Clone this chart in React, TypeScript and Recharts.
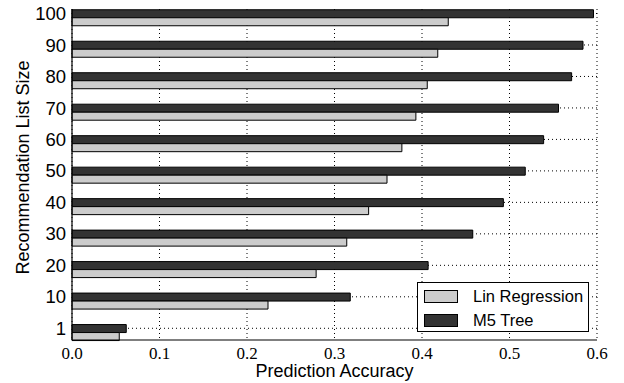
import React from 'react'
import { BarChart, Bar, XAxis, YAxis, CartesianGrid, Legend } from 'recharts'

// list sizes bottom -> top
const listSizes = ['1', '10', '20', '30', '40', '50', '60', '70', '80', '90', '100']
const linRegression = [0.054, 0.224, 0.279, 0.314, 0.339, 0.36, 0.377, 0.393, 0.406, 0.418, 0.43]
const m5Tree = [0.062, 0.318, 0.407, 0.458, 0.493, 0.518, 0.539, 0.556, 0.571, 0.584, 0.596]
const accuracyTicks = [0, 0.1, 0.2, 0.3, 0.4, 0.5, 0.6]

const LIGHT = '#cccccc'
const DARK = '#333333'
const SANS = '"Liberation Sans", Arial, sans-serif'
const SERIF = 'Liberation Serif, serif'

const legendItems = [
    { name: 'Lin Regression', color: LIGHT },
    { name: 'M5 Tree', color: DARK },
]

const data = listSizes.map((size, i) => ({ pos: i, size, lin: linRegression[i], m5: m5Tree[i] }))
const posTicks = listSizes.map((_, i) => i)

const LegendBox = () => (
    <div style={{
        width: 172, height: 50, boxSizing: 'border-box', border: '1px solid #000',
        background: '#fff', padding: '1px 0 0 6px', fontFamily: SANS, fontSize: 16.5, color: '#000'
    }}>
        {legendItems.map(item => (
            <div key={item.name} style={{ display: 'flex', alignItems: 'center', height: 24 }}>
                <span style={{
                    display: 'inline-block', width: 34, height: 13, boxSizing: 'border-box',
                    background: item.color, border: '1px solid #000', marginRight: 15
                }} />
                <span>{item.name}</span>
            </div>
        ))}
    </div>
)

// serif tick labels on the accuracy axis
const AccuracyTick = ({ x, y, payload }: any) => (
    <text x={x} y={y + 4} dy="0.75em" textAnchor="middle" style={{ fontFamily: SERIF }} fontSize={17} fill="#000">
        {Number(payload.value).toFixed(1)}
    </text>
)

export default function App() {
    return (
        <div style={{ position: 'absolute', left: 0, top: 0, width: 624, height: 383, background: '#fff' }}>
            <BarChart
                width={624}
                height={383}
                data={data}
                layout="vertical"
                margin={{ top: 9, right: 27, bottom: 0, left: 0 }}
                barSize={8}
                barGap={0}
            >
                <XAxis
                    type="number"
                    domain={[0, 0.6]}
                    ticks={accuracyTicks}
                    height={43}
                    tickSize={0}
                    axisLine={{ stroke: '#000', strokeWidth: 1.2 }}
                    tick={<AccuracyTick />}
                    label={{
                        content: ({ viewBox }: any) => (
                            <text x={viewBox.x + viewBox.width / 2} y={viewBox.y + 31} textAnchor="middle"
                                dominantBaseline="central" fontFamily={SANS} fontSize={18} fill="#000">
                                Prediction Accuracy
                            </text>
                        )
                    }}
                />
                <XAxis xAxisId="top" orientation="top" type="number" domain={[0, 0.6]} height={0}
                    tick={false} tickLine={false} axisLine={{ stroke: '#000', strokeWidth: 1.2 }} />
                <YAxis
                    type="number"
                    dataKey="pos"
                    domain={[-0.372, 10.143]}
                    reversed
                    ticks={posTicks}
                    interval={0}
                    tickFormatter={(v: number) => listSizes[v]}
                    width={72}
                    tickSize={0}
                    tickMargin={6}
                    axisLine={{ stroke: '#000', strokeWidth: 1.2 }}
                    tick={{ fill: '#000', fontSize: 18.5, fontFamily: SANS }}
                    label={{
                        content: () => (
                            <text x={23} y={167.5} transform="rotate(-90 23 167.5)" textAnchor="middle"
                                dominantBaseline="central" fontFamily={SANS} fontSize={18} fill="#000">
                                Recommendation List Size
                            </text>
                        )
                    }}
                />
                <YAxis yAxisId="right" orientation="right" type="number" domain={[-0.372, 10.143]} reversed width={0}
                    tick={false} tickLine={false} axisLine={{ stroke: '#000', strokeWidth: 1.2 }} />
                <CartesianGrid stroke="#000" strokeDasharray="1 3" horizontalValues={posTicks} />
                <Bar dataKey="spacer" fill="none" legendType="none" isAnimationActive={false} />
                <Bar dataKey="m5" name="M5 Tree" fill={DARK} stroke="#000" strokeWidth={1} isAnimationActive={false} />
                <Bar dataKey="lin" name="Lin Regression" fill={LIGHT} stroke="#000" strokeWidth={1} isAnimationActive={false} />
                <Legend
                    layout="horizontal"
                    verticalAlign="middle"
                    content={() => <LegendBox />}
                    wrapperStyle={{ position: 'absolute', left: 417, top: 282, width: 172, height: 50 }}
                />
            </BarChart>
        </div>
    )
}
